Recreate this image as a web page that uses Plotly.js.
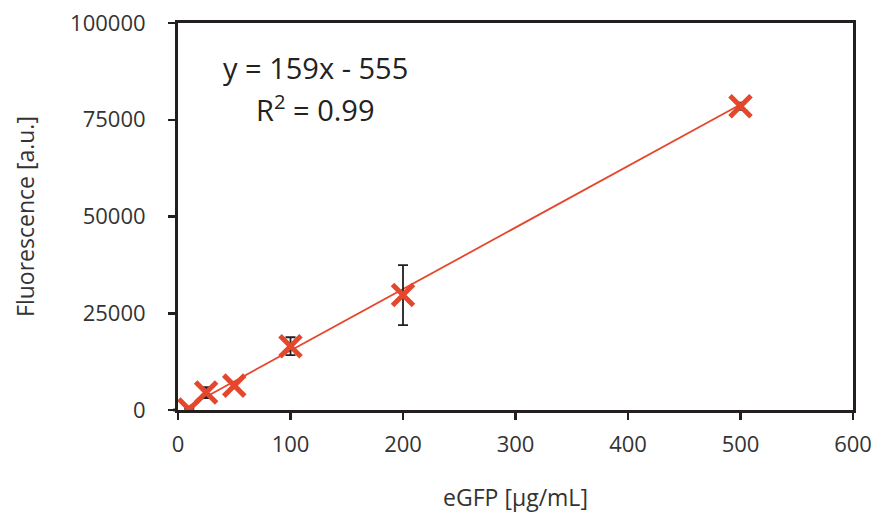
<!DOCTYPE html>
<html>
<head>
<meta charset="utf-8">
<script src="https://cdn.plot.ly/plotly-3.0.1.min.js"></script>
<style>html,body{margin:0;padding:0;background:#fff}#chart{width:875px;height:515px}</style>
</head>
<body>
<div id="chart"></div>
<script>
const concentration = [10, 25, 50, 100, 200, 500];
const fluorescence = [150, 4500, 6300, 16500, 29700, 78500];
const errorValues = [250, 1400, 650, 2300, 7750, 950];
const slope = 159;
const intercept = -555;
const trendX = [10, 500];
const trendY = trendX.map(x => slope * x + intercept);
const xTicks = [0, 100, 200, 300, 400, 500, 600];
const yTicks = [0, 25000, 50000, 75000, 100000];

const red = '#e5472d';
const axisColor = '#231f20';
const textColor = '#333333';
const fontFam = '"Open Sans", Lato, sans-serif';

const traces = [
  {
    x: trendX, y: trendY, mode: 'lines', type: 'scatter',
    line: {color: red, width: 1.8}, hoverinfo: 'skip'
  },
  {
    x: concentration, y: fluorescence, mode: 'markers', type: 'scatter',
    marker: {symbol: 'x-thin', size: 21, color: red, line: {color: red, width: 5}},
    error_y: {type: 'data', array: errorValues, visible: true, color: axisColor, thickness: 1.8, width: 5}
  }
];

const layout = {
  width: 875, height: 515,
  margin: {l: 178, r: 22, t: 23, b: 105},
  paper_bgcolor: '#fff', plot_bgcolor: '#fff',
  showlegend: false,
  font: {family: fontFam, color: textColor, size: 22},
  xaxis: {
    range: [0, 600], tickvals: xTicks, ticktext: xTicks.map(String),
    showgrid: false, zeroline: false,
    showline: true, linecolor: axisColor, linewidth: 3, mirror: true,
    ticks: 'outside', ticklen: 7, tickwidth: 2.5, tickcolor: axisColor,
    ticklabelstandoff: 6,
    tickfont: {size: 22, color: textColor, family: fontFam},
    title: {text: 'eGFP [µg/mL]', font: {size: 23, color: textColor, family: fontFam}, standoff: 33}
  },
  yaxis: {
    range: [0, 100000], tickvals: yTicks, ticktext: yTicks.map(String),
    showgrid: false, zeroline: false,
    showline: true, linecolor: axisColor, linewidth: 3, mirror: true,
    ticks: 'outside', ticklen: 7, tickwidth: 2.5, tickcolor: axisColor,
    ticklabelstandoff: 18,
    tickfont: {size: 22, color: textColor, family: fontFam},
    title: {text: 'Fluorescence [a.u.]', font: {size: 23, color: textColor, family: fontFam}, standoff: 30}
  },
  shapes: [
    {type: 'line', xref: 'paper', yref: 'paper', x0: -0.007, x1: 0, y0: 0, y1: 0,
     line: {color: axisColor, width: 3}}
  ],
  annotations: [
    {xref: 'paper', yref: 'paper', x: 0.203, y: 0.94, showarrow: false, xanchor: 'center',
     text: 'y = 159x - 555', font: {size: 29, color: '#222', family: fontFam}},
    {xref: 'paper', yref: 'paper', x: 0.204, y: 0.84, showarrow: false, xanchor: 'center',
     text: 'R<sup>2</sup> = 0.99', font: {size: 29, color: '#222', family: fontFam}}
  ]
};

Plotly.newPlot('chart', traces, layout, {displayModeBar: false, staticPlot: true});
</script>
</body>
</html>
